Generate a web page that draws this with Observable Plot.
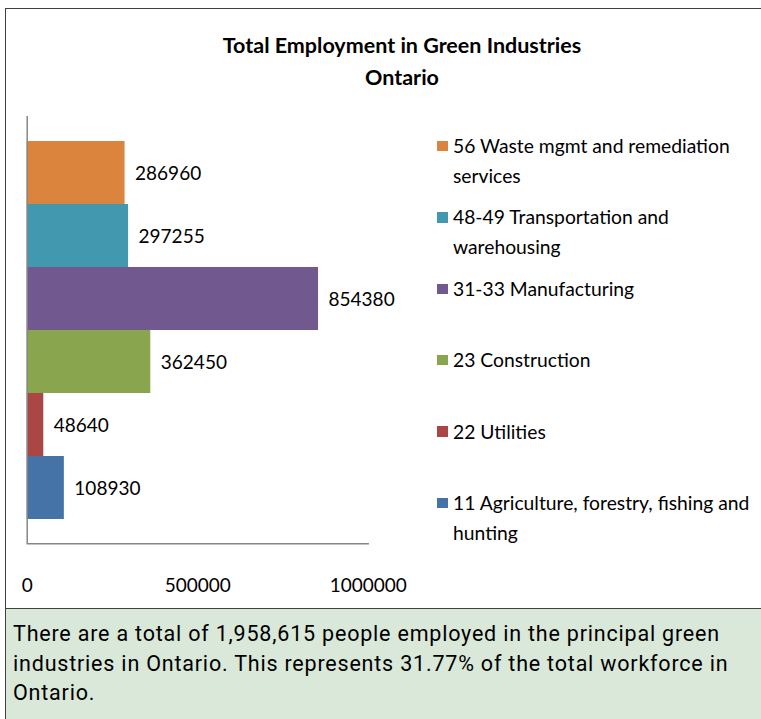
<!DOCTYPE html>
<html><head><meta charset="utf-8">
<script src="https://cdn.jsdelivr.net/npm/d3@7"></script>
<script src="https://cdn.jsdelivr.net/npm/@observablehq/plot@0.6"></script>
<style>
html,body{margin:0;padding:0;background:#fff;}
#root{position:relative;width:761px;height:719px;overflow:hidden;font-family:Lato,"Open Sans",sans-serif;color:#000;}
#panel{position:absolute;left:5px;top:8px;width:820px;height:800px;border-top:1.5px solid #404040;border-left:1.5px solid #404040;box-sizing:border-box;}
#title{position:absolute;left:102px;width:600px;top:29px;text-align:center;font-weight:bold;font-size:21.5px;line-height:32px;}
#chart{position:absolute;left:0;top:100px;}
#legend{position:absolute;left:437px;top:131px;width:320px;font-size:19.3px;line-height:30px;}
.item{display:flex;align-items:flex-start;height:71.4px;}
.sw{width:10.5px;height:10.5px;margin-top:9.75px;flex:none;}
.lt{margin-left:5.5px;width:302px;}
#note{position:absolute;left:5px;top:608px;width:770px;height:120px;background:#d9e8d9;border-top:1.5px solid #404040;border-left:1.5px solid #404040;box-sizing:border-box;}
#notetext{position:absolute;left:7px;top:10px;font-family:Roboto,sans-serif;font-size:21.5px;letter-spacing:0.8px;line-height:29.5px;width:760px;white-space:nowrap;}
</style></head>
<body>
<div id="root">
  <div id="panel"></div>
  <div id="title"></div>
  <div id="chart"></div>
  <div id="legend"></div>
  <div id="note"><div id="notetext"></div></div>
</div>
<script>
const titleLines = ["Total Employment in Green Industries", "Ontario"];
const categories = [
  "56 Waste mgmt and remediation services",
  "48-49 Transportation and warehousing",
  "31-33 Manufacturing",
  "23 Construction",
  "22 Utilities",
  "11 Agriculture, forestry, fishing and hunting"
];
const values = [286960, 297255, 854380, 362450, 48640, 108930];
const colors = ["#DB843D", "#4198AF", "#71588F", "#89A54E", "#AA4643", "#4572A7"];
const xTicks = [0, 500000, 1000000];
const noteLines = [
  "There are a total of 1,958,615 people employed in the principal green",
  "industries in Ontario. This represents 31.77% of the total workforce in",
  "Ontario."
];

const data = categories.map((c, i) => ({category: c, value: values[i]}));

document.getElementById("title").innerHTML = titleLines.join("<br>");
document.getElementById("notetext").innerHTML = noteLines.join("<br>");

const legend = document.getElementById("legend");
categories.forEach((c, i) => {
  const it = document.createElement("div");
  it.className = "item";
  it.innerHTML = `<div class="sw" style="background:${colors[i]}"></div><div class="lt">${c}</div>`;
  legend.appendChild(it);
});

const chart = Plot.plot({
  width: 420,
  height: 510,
  marginLeft: 26.7,
  marginRight: 52.3,
  marginTop: 16,
  marginBottom: 66.7,
  style: {fontFamily: "Lato, sans-serif", fontSize: "19px", background: "transparent", overflow: "visible"},
  x: {domain: [0, 1000000], axis: null, label: null},
  y: {domain: categories, paddingInner: 0, paddingOuter: 0.374, axis: null},
  color: {domain: categories, range: colors},
  marks: [
    Plot.barX(data, {y: "category", x: "value", fill: "category"}),
    Plot.text(data, {y: "category", x: "value", text: d => String(d.value), textAnchor: "start", dx: 10, dy: 1, fontSize: 19, fill: "#000"}),
    Plot.ruleX([0], {stroke: "#868686", strokeWidth: 1.5}),
    Plot.frame({anchor: "bottom", stroke: "#868686", strokeWidth: 1.5}),
    Plot.axisX({ticks: xTicks, tickSize: 0, tickPadding: 35, tickFormat: d3.format("d"), fontSize: 19, fill: "#000", label: null})
  ]
});
document.getElementById("chart").appendChild(chart);
</script>
</body></html>
